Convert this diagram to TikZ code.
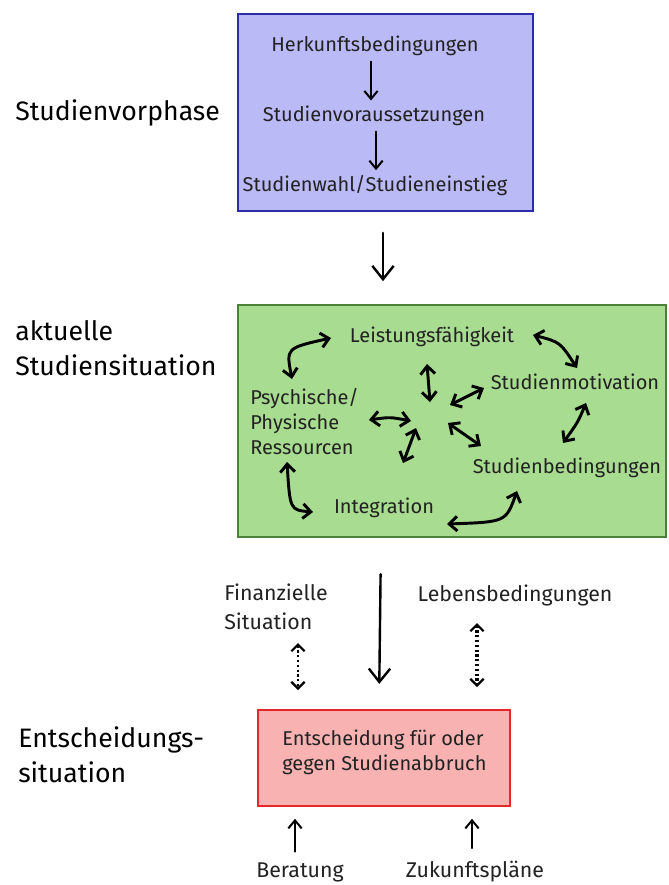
\documentclass[tikz,border=0pt]{standalone}
\usepackage{fontspec}
\setmainfont{Fira Sans}
\usetikzlibrary{arrows.meta,fit,calc}
\definecolor{bluefill}{RGB}{186,186,246}
\definecolor{blueline}{RGB}{44,44,168}
\definecolor{greenfill}{RGB}{168,220,144}
\definecolor{greenline}{RGB}{74,130,58}
\definecolor{redfill}{RGB}{248,178,178}
\definecolor{redline}{RGB}{230,40,40}
\definecolor{txt}{RGB}{34,34,34}
\tikzset{
  inner/.style={font=\fontsize{15}{18.75}\selectfont, text=txt, inner sep=0pt},
  outer/.style={font=\fontsize{16}{21.75}\selectfont, text=txt, inner sep=0pt},
  side/.style={font=\fontsize{20}{26}\selectfont, text=black, inner sep=0pt, align=left, anchor=west},
  bluebox/.style={draw=blueline, fill=bluefill, line width=1.8pt, inner sep=0pt},
  greenbox/.style={draw=greenline, fill=greenfill, line width=1.8pt, inner sep=0pt},
  redbox/.style={draw=redline, fill=redfill, line width=1.2pt, inner sep=0pt},
  bigarrow/.style={line width=1.8pt, line cap=round, -{Straight Barb[length=10pt,width=16pt,line width=1.8pt]}},
  smallarrow/.style={line width=1.5pt, line cap=round, -{Straight Barb[length=6pt,width=10pt,line width=1.5pt]}},
  dbl/.style={line width=2.2pt, line cap=round, {Straight Barb[length=6pt,width=11pt,line width=2.2pt]}-{Straight Barb[length=6pt,width=11pt,line width=2.2pt]}},
  dotdbl/.style={line width=1.6pt, dotted, {Straight Barb[length=5pt,width=10pt,line width=1.6pt]}-{Straight Barb[length=5pt,width=10pt,line width=1.6pt]}},
}
\begin{document}
\begin{tikzpicture}[x=0.75pt,y=-0.75pt]
\path[fill=white,use as bounding box] (0,0) rectangle (668,885);

% side labels
\node[side] (l1) at (15,113) {Studienvorphase};
\node[side] (l2) at (15,348) {aktuelle\\Studiensituation};
\node[side] (l3) at (18,755) {Entscheidungs-\\situation};

% phase 1
\node[bluebox, fit={(238,14)(533,211)}] (box1) {};
\node[inner] (herk) at (375,46) {Herkunftsbedingungen};
\node[inner] (vor) at (374,116) {Studienvoraussetzungen};
\node[inner] (wahl) at (375,186) {Studienwahl/Studieneinstieg};
\draw[smallarrow, shorten <=4pt, shorten >=4pt] (herk.south -| 371,0) -- (vor.north -| 371,0);
\draw[smallarrow, shorten <=4pt, shorten >=4pt] (vor.south -| 376,0) -- (wahl.north -| 376,0);

% phase 2
\node[greenbox, fit={(238,305)(666,537)}] (box2) {};
\draw[bigarrow, shorten <=15.5pt, shorten >=17pt] (box1.south -| 383,0) -- (box2.north -| 383,0);

\node[inner] (leis) at (432,337) {Leistungsfähigkeit};
\node[inner] (mot) at (575,382) {Studienmotivation};
\node[inner, align=left, anchor=west] (psy) at (250,422) {Psychische/\\Physische\\Ressourcen};
\node[inner] (bed) at (567,468) {Studienbedingungen};
\node[inner] (integ) at (384,508) {Integration};

% ring arrows
\draw[dbl] (292,379) .. controls (286,348) .. (331,338);
\draw[dbl] (533,335) .. controls (560,342) .. (577,368);
\draw[dbl] (586,403) .. controls (578,422) .. (563,443);
\draw[dbl] (517,491) .. controls (506,522) .. (447,524);
\draw[dbl] (287,462) .. controls (290,510) .. (313,512);

% central arrows
\draw[dbl] (427,364) -- (430,402);
\draw[dbl] (369,420) .. controls (390,417) .. (411,421);
\draw[dbl] (416,428) .. controls (410,445) .. (403,463);
\draw[dbl] (450,405) -- (484,388);
\draw[dbl] (448,423) -- (481,446);

% phase 3
\node[redbox, fit={(258,710)(510,806)}] (box3) {};
\node[inner, align=left, anchor=north west] (ent) at (282,730) {Entscheidung für oder\\gegen Studienabbruch};

\draw[bigarrow, shorten <=27pt, shorten >=19pt] (box2.south -| 381,0) -- (box3.north -| 379,0);

\node[outer, align=left, anchor=west] (fin) at (224,607) {Finanzielle\\Situation};
\node[outer] (leb) at (515,595) {Lebensbedingungen};
\draw[dotdbl] (298,643) -- (298,690);
\draw[dotdbl, line width=2.4pt] (477,623) -- (477,687);

\node[outer] (ber) at (300,872) {Beratung};
\node[outer] (zuk) at (475,872) {Zukunftspläne};
\draw[smallarrow, line width=2pt, shorten <=8pt, shorten >=9pt] (ber.north -| 295,0) -- (box3.south -| 295,0);
\draw[smallarrow, line width=2pt, shorten <=10pt, shorten >=9pt] (zuk.north -| 472,0) -- (box3.south -| 472,0);
\end{tikzpicture}
\end{document}
